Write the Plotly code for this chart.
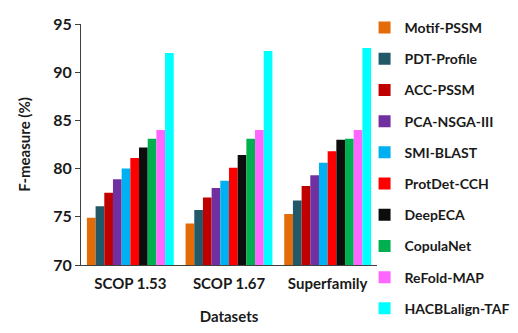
import plotly.graph_objects as go

datasets = ["SCOP 1.53", "SCOP 1.67", "Superfamily"]
methods = ["Motif-PSSM", "PDT-Profile", "ACC-PSSM", "PCA-NSGA-III", "SMI-BLAST",
           "ProtDet-CCH", "DeepECA", "CopulaNet", "ReFold-MAP", "HACBLalign-TAF"]
colors = ["#E36C09", "#215968", "#C00000", "#7030A0", "#00B0F0",
          "#FF0000", "#0D0D0D", "#00B050", "#FF66FF", "#00FFFF"]

motif_pssm = [74.9, 74.3, 75.3]
pdt_profile = [76.1, 75.7, 76.7]
acc_pssm = [77.5, 77.0, 78.2]
pca_nsga = [78.9, 78.0, 79.3]
smi_blast = [80.0, 78.75, 80.6]
protdet_cch = [81.1, 80.1, 81.8]
deepeca = [82.2, 81.4, 83.0]
copulanet = [83.1, 83.1, 83.1]
refold_map = [84.0, 84.0, 84.0]
hacblalign_taf = [92.0, 92.2, 92.5]

series = [motif_pssm, pdt_profile, acc_pssm, pca_nsga, smi_blast,
          protdet_cch, deepeca, copulanet, refold_map, hacblalign_taf]

font_family = "Lato, Open Sans, sans-serif"

fig = go.Figure()
for name, vals, col in zip(methods, series, colors):
    fig.add_trace(go.Bar(x=datasets, y=vals, name=name, marker_color=col,
                         marker_line_width=0, legendgroup=name))

fig.update_layout(
    width=518, height=333,
    margin=dict(l=73, r=149, t=16, b=76, autoexpand=False),
    paper_bgcolor="white", plot_bgcolor="white",
    barmode="group", bargap=0.12, bargroupgap=0,
    font=dict(family=font_family, color="#1a1a1a"),
    legend=dict(x=0.958, y=1.05, xanchor="left", yanchor="top",
                font=dict(size=14, family=font_family, color="#1a1a1a", weight="bold"),
                tracegroupgap=10, traceorder="grouped", bgcolor="rgba(0,0,0,0)",
                maxheight=1.0),
    xaxis=dict(showline=True, linecolor="#404040", linewidth=1, ticks="",
               tickfont=dict(size=15, weight="bold"), ticklabelstandoff=5,
               title=dict(text="Datasets", font=dict(size=15, weight="bold"), standoff=20)),
    yaxis=dict(range=[70, 95], tickvals=[70, 75, 80, 85, 90, 95], showgrid=False,
               zeroline=False, showline=True, linecolor="#404040", linewidth=1,
               ticks="outside", ticklen=5, tickcolor="#404040",
               tickfont=dict(size=16, weight="bold"),
               title=dict(text="F-measure (%)", font=dict(size=15, weight="bold"), standoff=18)),
)

fig.write_html("out.html")
